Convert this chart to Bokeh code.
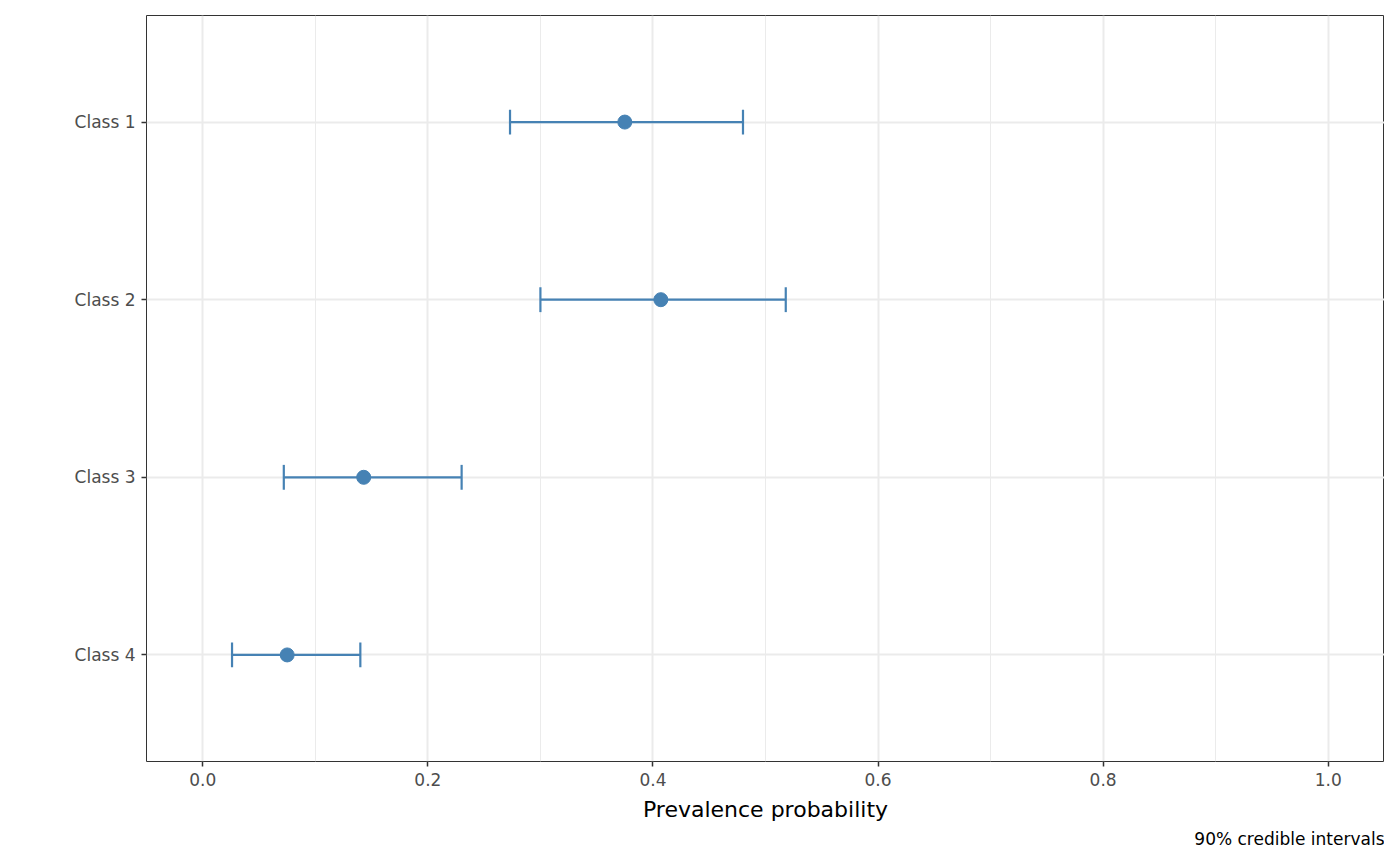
from bokeh.plotting import figure
from bokeh.models import FixedTicker, Title, Range1d
from bokeh.embed import file_html
from bokeh.resources import INLINE

classes = ["Class 1", "Class 2", "Class 3", "Class 4"]
estimate = [0.375, 0.407, 0.143, 0.075]
lower = [0.273, 0.300, 0.072, 0.026]
upper = [0.480, 0.518, 0.230, 0.140]

color = "#4682B4"
ypos = [len(classes) - i for i in range(len(classes))]

p = figure(width=1384, height=850, output_backend="svg", toolbar_location=None,
           x_range=Range1d(-0.05, 1.05), y_range=Range1d(0.4, len(classes) + 0.6),
           min_border_left=146, min_border_right=0, min_border_top=15)

p.segment(x0=lower, x1=upper, y0=ypos, y1=ypos, line_color=color, line_width=2.2)
cap = 0.07
p.segment(x0=lower, x1=lower, y0=[y - cap for y in ypos], y1=[y + cap for y in ypos],
          line_color=color, line_width=2.2)
p.segment(x0=upper, x1=upper, y0=[y - cap for y in ypos], y1=[y + cap for y in ypos],
          line_color=color, line_width=2.2)
p.scatter(x=estimate, y=ypos, size=14, color=color)

p.xaxis.ticker = FixedTicker(ticks=[0, 0.2, 0.4, 0.6, 0.8, 1.0],
                             minor_ticks=[0.1, 0.3, 0.5, 0.7, 0.9])
p.xaxis.major_label_overrides = {0: "0.0", 0.2: "0.2", 0.4: "0.4", 0.6: "0.6", 0.8: "0.8", 1.0: "1.0"}
p.yaxis.ticker = FixedTicker(ticks=ypos)
p.yaxis.major_label_overrides = {y: c for y, c in zip(ypos, classes)}

for ax in (p.xaxis[0], p.yaxis[0]):
    ax.axis_line_color = None
    ax.major_tick_line_color = "#333333"
    ax.major_tick_line_width = 1.5
    ax.major_tick_out = 5
    ax.major_tick_in = 0
    ax.minor_tick_line_color = None
    ax.major_label_text_font = "DejaVu Sans"
    ax.major_label_text_font_size = "17px"
    ax.major_label_text_color = "#4D4D4D"
    ax.major_label_standoff = 6

p.xaxis.axis_label = "Prevalence probability"
p.xaxis.axis_label_text_font = "DejaVu Sans"
p.xaxis.axis_label_text_font_size = "22px"
p.xaxis.axis_label_text_font_style = "normal"
p.xaxis.axis_label_text_color = "black"
p.xaxis.axis_label_standoff = 8

p.xgrid.grid_line_color = "#EBEBEB"
p.xgrid.grid_line_width = 2
p.xgrid.minor_grid_line_color = "#EBEBEB"
p.xgrid.minor_grid_line_width = 1
p.ygrid.grid_line_color = "#EBEBEB"
p.ygrid.grid_line_width = 2

p.outline_line_color = "#333333"
p.outline_line_width = 1

p.add_layout(Title(text="90% credible intervals", align="right", text_font="DejaVu Sans",
                   text_font_size="17px", text_font_style="normal", text_color="black",
                   standoff=4), "below")

open("out.html", "w").write(file_html(p, INLINE))
